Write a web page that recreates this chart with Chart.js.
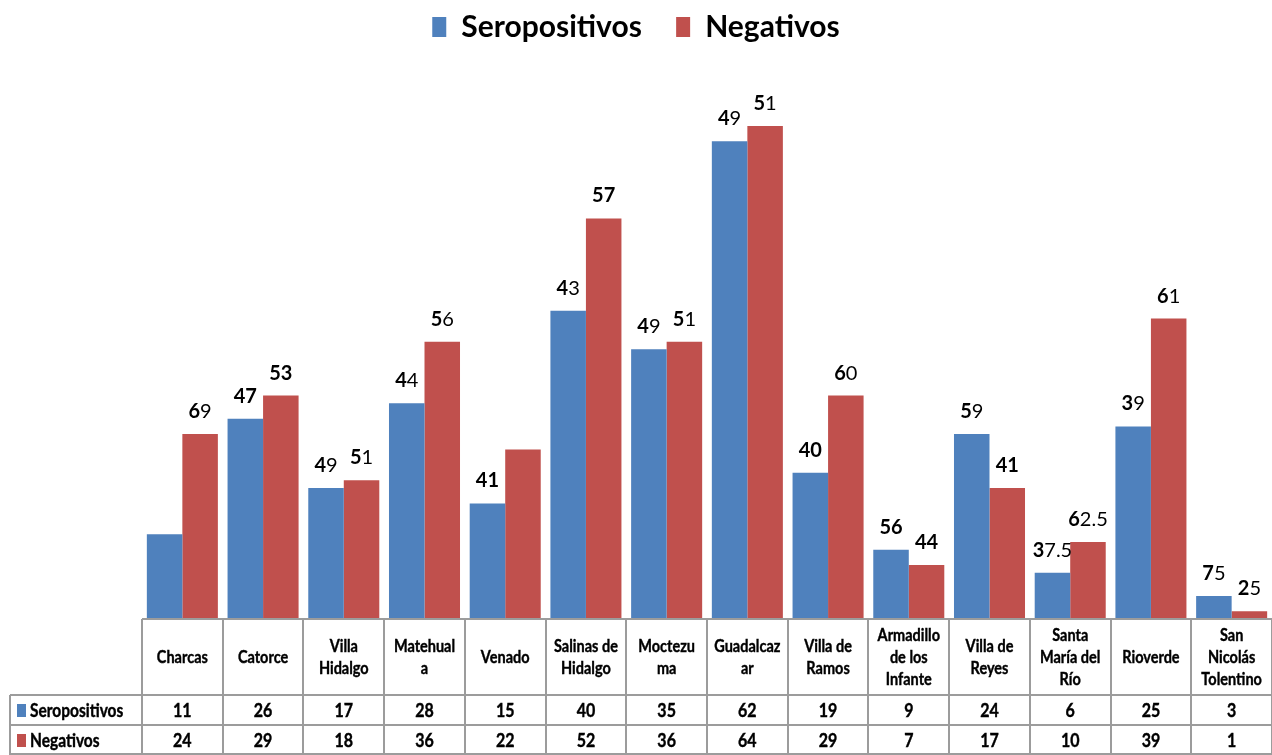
<!DOCTYPE html>
<html>
<head>
<meta charset="utf-8">
<script src="https://cdn.jsdelivr.net/npm/chart.js@4"></script>
<style>
  body { margin: 0; background: #fff; }
  canvas { display: block; }
</style>
</head>
<body>
<canvas id="myChart" width="1272" height="755"></canvas>
<script>
// municipios (con los cortes de línea de la tabla)
const municipios = [
    ["Charcas"], ["Catorce"], ["Villa", "Hidalgo"], ["Matehual", "a"], ["Venado"],
    ["Salinas de", "Hidalgo"], ["Moctezu", "ma"], ["Guadalcaz", "ar"], ["Villa de", "Ramos"],
    ["Armadillo", "de los", "Infante"], ["Villa de", "Reyes"], ["Santa", "María del", "Río"],
    ["Rioverde"], ["San", "Nicolás", "Tolentino"]
]
const seropositivos = [11, 26, 17, 28, 15, 40, 35, 62, 19, 9, 24, 6, 25, 3]
const negativos = [24, 29, 18, 36, 22, 52, 36, 64, 29, 7, 17, 10, 39, 1]

// porcentajes encima de cada barra (null = sin etiqueta)
const pctSero = [null, "47", "49", "44", "41", "43", "49", "49", "40", "56", "59", "37.5", "39", "75"]
const pctNeg = ["69", "53", "51", "56", null, "57", "51", "51", "60", "44", "41", "62.5", "61", "25"]
// cuantos caracteres de la etiqueta van en negrita
const boldSero = [0, 2, 1, 1, 2, 1, 1, 1, 2, 2, 1, 1, 1, 1]
const boldNeg = [1, 2, 1, 1, 0, 2, 1, 1, 1, 2, 2, 1, 1, 1]

const AZUL = '#4F81BD'
const ROJO = '#C0504D'
const LINEA = '#9c9c9c'
const FUENTE = 'Lato, "Open Sans", sans-serif'

var ctx = document.getElementById('myChart').getContext('2d')

// texto un poco estirado en vertical
function tallText(c, text, x, y, sy) {
    c.save()
    c.translate(x, y)
    c.scale(1, sy)
    c.fillText(text, 0, 0)
    c.lineWidth = 0.35
    c.strokeStyle = c.fillStyle
    c.strokeText(text, 0, 0)
    c.restore()
}

// etiqueta con los primeros caracteres en negrita y el resto normal
function mixedLabel(c, text, nBold, cx, baseline) {
    const a = text.slice(0, nBold)
    const b = text.slice(nBold)
    c.font = `bold 20px ${FUENTE}`
    const wa = c.measureText(a).width
    c.font = `20px ${FUENTE}`
    const wb = c.measureText(b).width
    let x = cx - (wa + wb) / 2
    c.textAlign = 'left'
    c.textBaseline = 'alphabetic'
    c.fillStyle = '#000'
    c.font = `bold 20px ${FUENTE}`
    c.fillText(a, x, baseline)
    c.font = `20px ${FUENTE}`
    c.fillText(b, x + wa, baseline)
}

const porcentajes = {
    id: 'porcentajes',
    afterDatasetsDraw(chart) {
        const c = chart.ctx
        const series = [[pctSero, boldSero], [pctNeg, boldNeg]]
        series.forEach(([labels, bolds], di) => {
            chart.getDatasetMeta(di).data.forEach((bar, i) => {
                if (labels[i] === null) return
                mixedLabel(c, labels[i], bolds[i], bar.x, bar.y - 16)
            })
        })
    }
}

const tabla = {
    id: 'tabla',
    afterDraw(chart) {
        const c = chart.ctx
        const area = chart.chartArea
        const n = municipios.length
        const w = (area.right - area.left) / n
        const y0 = area.bottom
        const yHead = y0 + 76
        const yRow2 = yHead + 30
        const yEnd = yRow2 + 30
        const xLeft = 10

        c.save()
        c.strokeStyle = LINEA
        c.lineWidth = 2
        c.beginPath()
        // eje horizontal
        c.moveTo(area.left, y0); c.lineTo(area.right, y0)
        c.moveTo(xLeft, yHead); c.lineTo(area.right, yHead)
        c.moveTo(xLeft, yRow2); c.lineTo(area.right, yRow2)
        c.moveTo(xLeft, yEnd - 1); c.lineTo(area.right, yEnd - 1)
        c.moveTo(xLeft, yHead); c.lineTo(xLeft, yEnd)
        for (let k = 0; k <= n; k++) {
            const x = Math.round(area.left + k * w)
            c.moveTo(x, y0); c.lineTo(x, yEnd)
        }
        c.stroke()

        c.fillStyle = '#000'
        c.textAlign = 'center'
        c.textBaseline = 'middle'
        const lh = 22
        municipios.forEach((lines, i) => {
            const cx = chart.scales.x.getPixelForValue(i)
            c.font = `bold 14.5px ${FUENTE}`
            const mid = (y0 + yHead) / 2
            lines.forEach((t, j) => {
                const y = mid + (j - (lines.length - 1) / 2) * lh
                tallText(c, t, cx, y, 1.22)
            })
            c.font = `bold 16px ${FUENTE}`
            tallText(c, String(seropositivos[i]), cx, (yHead + yRow2) / 2 + 1, 1.15)
            tallText(c, String(negativos[i]), cx, (yRow2 + yEnd) / 2 + 1, 1.15)
        })

        // cabecera de filas
        const filas = [["Seropositivos", AZUL, (yHead + yRow2) / 2], ["Negativos", ROJO, (yRow2 + yEnd) / 2]]
        filas.forEach(([txt, col, y]) => {
            c.fillStyle = col
            c.fillRect(17, y - 6, 9, 13)
            c.fillStyle = '#000'
            c.textAlign = 'left'
            c.font = `bold 15.5px ${FUENTE}`
            tallText(c, txt, 30, y + 1, 1.2)
        })
        c.restore()
    }
}

let myChart = new Chart(ctx, {
    type: 'bar',
    data: {
        labels: municipios.map(m => m.join(' ')),
        datasets: [{
            label: 'Seropositivos',
            data: seropositivos,
            backgroundColor: AZUL,
            borderWidth: 0
        }, {
            label: 'Negativos',
            data: negativos,
            backgroundColor: ROJO,
            borderWidth: 0
        }]
    },
    options: {
        responsive: false,
        animation: false,
        layout: {
            padding: { left: 0, right: 0, top: 0, bottom: 136 }
        },
        datasets: {
            bar: { categoryPercentage: 0.88, barPercentage: 1.0 }
        },
        plugins: {
            legend: {
                position: 'top',
                labels: {
                    boxWidth: 14,
                    boxHeight: 20,
                    padding: 12,
                    color: '#000',
                    font: { family: FUENTE, size: 30, weight: 'bold' },
                    // algo de aire entre las dos entradas
                    generateLabels(chart) {
                        const items = Chart.defaults.plugins.legend.labels.generateLabels(chart)
                        items.forEach((it, i) => { if (i < items.length - 1) it.text += '\u2002 ' })
                        return items
                    }
                }
            },
            tooltip: { enabled: false }
        },
        scales: {
            x: { display: false, grid: { display: false } },
            y: {
                min: 0,
                max: 73.6,
                ticks: { display: false },
                grid: { display: false },
                border: { display: false },
                // hueco a la izquierda para la cabecera de la tabla
                afterFit(scale) { scale.width = 142 }
            }
        }
    },
    plugins: [porcentajes, tabla]
})
</script>
</body>
</html>
